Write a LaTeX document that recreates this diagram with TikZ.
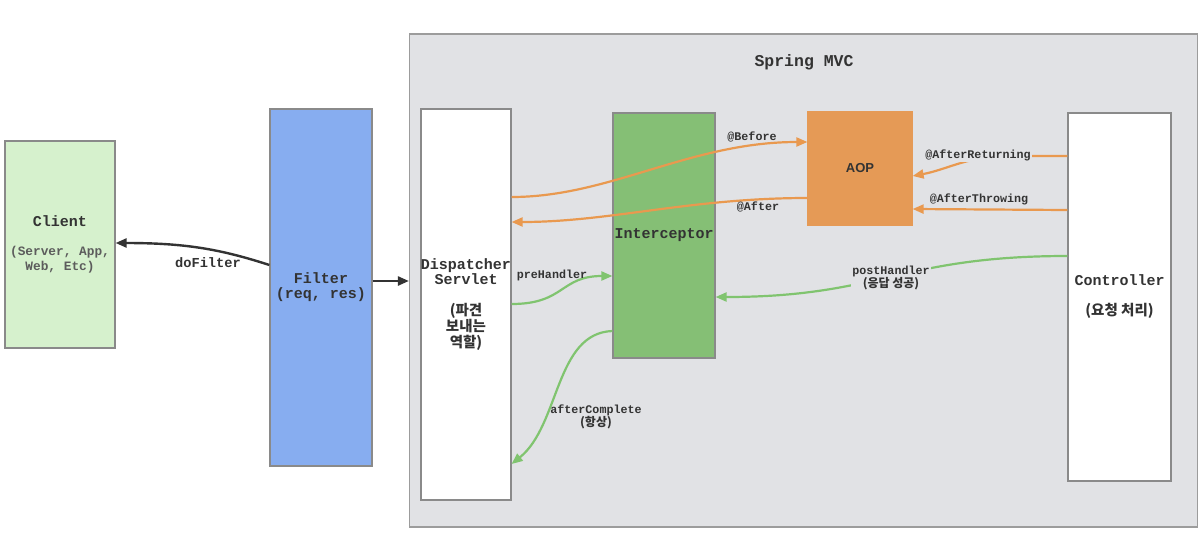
\documentclass[tikz,border=0pt]{standalone}
\usepackage{fontspec}
\setmainfont{Liberation Sans}
\newfontfamily\mono{Liberation Mono}
\newfontfamily\kr{Noto Sans CJK KR}
\usetikzlibrary{arrows.meta}
\definecolor{clientfill}{HTML}{D6F1CD}
\definecolor{boxborder}{HTML}{8A8A8A}
\definecolor{filterfill}{HTML}{87ADF0}
\definecolor{mvcbg}{HTML}{E1E2E5}
\definecolor{interfill}{HTML}{85BF75}
\definecolor{aopfill}{HTML}{E59A56}
\definecolor{orangeline}{HTML}{E9994F}
\definecolor{greenline}{HTML}{80C46F}
\definecolor{darkline}{HTML}{333333}
\definecolor{txt}{HTML}{333333}
\tikzset{
  box/.style={draw=boxborder, line width=1.2pt, inner sep=0pt, text=txt, align=center,
    font=\mono\bfseries\fontsize{15}{16}\selectfont},
  lbl/.style={inner sep=1pt, text=txt, align=center, font=\mono\bfseries\fontsize{11.7}{12}\selectfont},
  oarrow/.style={draw=orangeline, line width=2.2pt, -{Triangle[length=11pt,width=9pt]}},
  garrow/.style={draw=greenline, line width=2.2pt, -{Triangle[length=11pt,width=9pt]}},
  darrow/.style={draw=darkline, line width=2.4pt, -{Triangle[length=11pt,width=9pt]}},
}
\begin{document}
\begin{tikzpicture}[x=1pt,y=-1pt]
\useasboundingbox[fill=white] (0,0) rectangle (1204,536);
% Spring MVC container
\node[box, draw=boxborder!85, fill=mvcbg, minimum width=788pt, minimum height=493pt] (mvc) at (803.5,280.5) {};
\node[lbl, font=\mono\bfseries\fontsize{16.5}{17}\selectfont] (title) at (804,62) {Spring MVC};
% Client
\node[box, fill=clientfill, minimum width=110pt, minimum height=207pt] (client) at (60,244.5)
  {Client\\[13pt]{\color{txt!80}\fontsize{12.8}{13}\selectfont (Server, App,}\\[-1pt]{\color{txt!80}\fontsize{12.8}{13}\selectfont Web, Etc)}};
% Filter
\node[box, fill=filterfill, minimum width=102pt, minimum height=357pt] (filter) at (321,287.5)
  {Filter\\[-1pt](req, res)};
% Dispatcher
\node[box, fill=white, minimum width=90pt, minimum height=391pt] (disp) at (466,304.5) {};
\node[inner sep=0pt, align=center, text=txt, font=\mono\bfseries\fontsize{15}{16}\selectfont] (disptext) at (466,305)
  {Dispatcher\\[-1pt]Servlet\\[15pt]{\kr\fontsize{14.5}{14}\selectfont (파견}\\[0pt]{\kr\fontsize{14.5}{14}\selectfont 보내는}\\[0pt]{\kr\fontsize{14.5}{14}\selectfont 역할)}};
% Interceptor
\node[box, fill=interfill, minimum width=102pt, minimum height=245pt] (inter) at (664,235.5) {Interceptor};
% AOP
\node[box, draw=aopfill, fill=aopfill, minimum width=104pt, minimum height=113pt,
  font=\bfseries\fontsize{13}{14}\selectfont] (aop) at (860,168.5) {AOP};
% Controller
\node[box, fill=white, minimum width=103pt, minimum height=368pt] (ctrl) at (1119.5,297)
  {Controller\\[14pt]{\kr\fontsize{14.5}{14}\selectfont (요청 처리)}};

% Filter -> container
\draw[darrow] (filter.east |- 0,281) -- (mvc.west |- 0,281);
% doFilter
\draw[darrow] (filter.west |- 0,265) .. controls (220,249) and (185,243) .. (client.east |- 0,243);
\node[lbl, font=\mono\bfseries\fontsize{13.7}{14}\selectfont] (dofilter) at (208,263) {doFilter};

% @Before
\draw[oarrow] (disp.east |- 0,197) .. controls (610,197) and (690,142) .. (aop.west |- 0,142);
\node[lbl] (before) at (752,137) {@Before};
% @After
\draw[oarrow] (aop.west |- 0,198) .. controls (690,198) and (610,222) .. (disp.east |- 0,222);
\node[lbl] (after) at (758,207) {@After};
% @AfterReturning
\draw[oarrow] (ctrl.west |- 0,156) -- (1000,156) .. controls (965,158) and (945,170) .. (aop.east |- 0,176);
\node[lbl, fill=mvcbg] (afterret) at (978,155) {@AfterReturning};
% @AfterThrowing
\draw[oarrow] (ctrl.west |- 0,210) -- (aop.east |- 0,209);
\node[lbl] (afterthrow) at (979,199) {@AfterThrowing};

% preHandler
\draw[garrow] (disp.east |- 0,304) .. controls (565,304) and (560,276) .. (inter.west |- 0,276);
\node[lbl] (pre) at (552,275) {preHandler};
% postHandler
\draw[garrow] (ctrl.west |- 0,256) .. controls (900,256) and (880,297) .. (inter.east |- 0,297);
\node[lbl, fill=mvcbg] (post) at (891,278) {postHandler\\[0pt]{\kr\fontsize{12}{12}\selectfont (응답 성공)}};
% afterComplete
\draw[garrow] (inter.west |- 0,331) .. controls (555,333) and (560,425) .. (disp.east |- 0,464);
\node[lbl] (aftercomp) at (596,417) {afterComplete\\[0pt]{\kr\fontsize{12}{12}\selectfont (항상)}};
\end{tikzpicture}
\end{document}
